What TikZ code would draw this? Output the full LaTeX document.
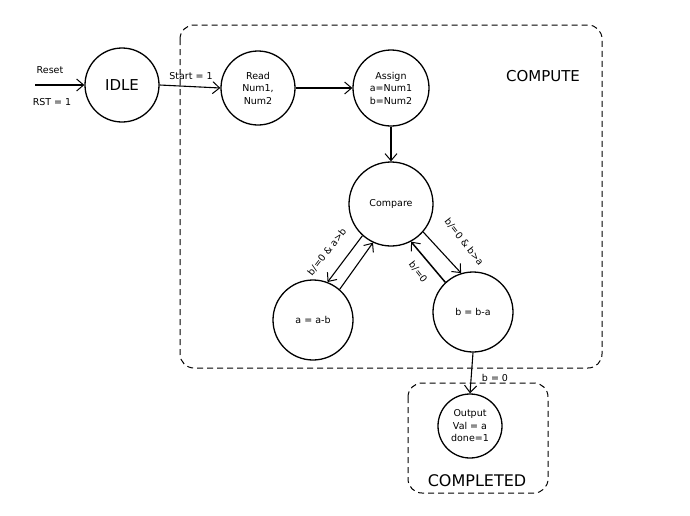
\documentclass[tikz,border=0pt]{standalone}
\usepackage{fontspec}
\setmainfont{DejaVu Sans}
\usetikzlibrary{arrows.meta}
\begin{document}
\begin{tikzpicture}[x=1pt,y=-1pt,
  state/.style={draw,circle,line width=1.3pt,inner sep=0pt,align=center,font=\fontsize{9.5}{12.5}\selectfont},
  edge/.style={line width=1.1pt,-{Straight Barb[length=7pt,width=12pt,line width=1pt]}},
  group/.style={draw,line width=1pt,rounded corners=14pt,dash pattern=on 6pt off 4pt},
  lbl/.style={font=\fontsize{9.5}{12}\selectfont,inner sep=1pt}]
\useasboundingbox (0,0) rectangle (690,515);

% state groups
\draw[group] (180,25) rectangle (602,368);
\draw[group] (408,383) rectangle (548,493);
\node[font=\fontsize{15}{17}\selectfont] (computeLbl) at (543,76) {COMPUTE};
\node[font=\fontsize{16}{18}\selectfont] (completedLbl) at (477,481) {COMPLETED};

% states
\node[state,minimum size=74pt,font=\fontsize{15}{17}\selectfont] (idle) at (122,85) {IDLE};
\node[state,minimum size=74pt] (read) at (258,88) {Read\\Num1,\\Num2};
\node[state,minimum size=76pt] (assign) at (391,88) {Assign\\a=Num1\\b=Num2};
\node[state,minimum size=84pt] (cmp) at (391,204) {Compare};
\node[state,minimum size=80pt] (suba) at (313,320) {a = a-b};
\node[state,minimum size=80pt] (subb) at (473,312) {b = b-a};
\node[state,minimum size=64pt] (out) at (470,426) {Output\\Val = a\\done=1};

% reset entry
\coordinate (rst) at (35,85);
\draw[edge] (rst) -- (idle.west);
\node[lbl] (resetLbl) at (50,70) {Reset};
\node[lbl] (rstLbl) at (52,102) {RST = 1};

% transitions
\draw[edge] (idle.east) -- (read.west);
\node[lbl] (startLbl) at (191,76) {Start = 1};
\draw[edge] (read.east) -- (assign.west);
\draw[edge] (assign.south) -- (cmp.north);

\draw[edge] (cmp.228) -- (suba.69);
\draw[edge] (suba.49) -- (cmp.245);
\node[lbl,rotate=52] (leftLbl) at (327,252) {b/=0 \& a>b};

\draw[edge] (cmp.319) -- (subb.107);
\node[lbl,rotate=-52] (rightLbl) at (464,242) {b/=0 \& b>a};
\draw[edge,line width=1.5pt] (subb.133) -- (cmp.298);
\node[lbl,rotate=-52] (backLbl) at (418,272) {b/=0};

\draw[edge] (subb.south) -- (out.north);
\node[lbl] (doneLbl) at (495,378) {b = 0};
\end{tikzpicture}
\end{document}
